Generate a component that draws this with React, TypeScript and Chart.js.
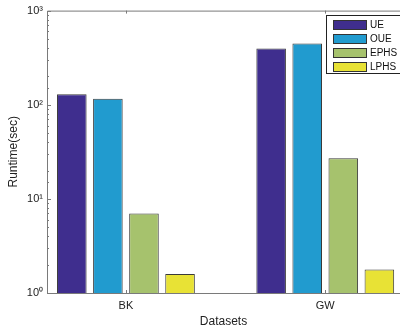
import React, { useEffect, useRef } from "react";
import { Chart, registerables } from "chart.js";

Chart.register(...registerables);

const categories = ["BK", "GW"];
const seriesNames = ["UE", "OUE", "EPHS", "LPHS"];
const ueValues = [129, 396];
const oueValues = [116, 448];
const ephsValues = [7.0, 27];
const lphsValues = [1.59, 1.78];
const seriesColors = ["#3f2e8e", "#219bcf", "#a6c26d", "#e8e235"];
const yTickValues = [1, 10, 100, 1000];
const yTickLabels = ["10⁰", "10¹", "10²", "10³"];

const FONT = "'Liberation Sans', Arial, sans-serif";

const framePlugin = {
  id: "frame",
  afterDatasetsDraw(chart: any) {
    const { ctx, chartArea } = chart;
    const { left, right, top, bottom } = chartArea;
    const xs = chart.scales.x;
    const ys = chart.scales.y;
    ctx.save();
    ctx.strokeStyle = "#7a7a7a";
    ctx.lineWidth = 1;
    ctx.beginPath();
    ctx.moveTo(left + 0.5, top + 0.5);
    ctx.lineTo(right + 0.5, top + 0.5);
    ctx.lineTo(right + 0.5, bottom + 0.5);
    ctx.lineTo(left + 0.5, bottom + 0.5);
    ctx.closePath();
    ctx.stroke();
    ys.ticks.forEach((t: any) => {
      const y = Math.round(ys.getPixelForValue(t.value)) + 0.5;
      const isMajor = yTickValues.includes(t.value);
      const len = isMajor ? 4 : 2;
      ctx.beginPath();
      ctx.moveTo(left, y);
      ctx.lineTo(left + len, y);
      ctx.stroke();
    });
    categories.forEach((_, i) => {
      const x = Math.round(xs.getPixelForValue(i + 1)) + 0.5;
      ctx.beginPath();
      ctx.moveTo(x, bottom);
      ctx.lineTo(x, bottom - 3);
      ctx.moveTo(x, top);
      ctx.lineTo(x, top + 3);
      ctx.stroke();
    });
    ctx.restore();
  },
  afterDraw(chart: any) {
    const { ctx } = chart;
    const bx = 326.5, by = 15.5, bw = 80, bh = 58;
    ctx.save();
    ctx.fillStyle = "#ffffff";
    ctx.fillRect(bx, by, bw, bh);
    ctx.strokeStyle = "#222222";
    ctx.lineWidth = 1;
    ctx.strokeRect(bx, by, bw, bh);
    ctx.font = `10px ${FONT}`;
    ctx.textBaseline = "middle";
    ctx.textAlign = "left";
    chart.data.datasets.forEach((ds: any, i: number) => {
      const cy = 25 + i * 14;
      ctx.fillStyle = ds.backgroundColor;
      ctx.fillRect(333.5, cy - 4.5, 33, 9);
      ctx.strokeStyle = "#333333";
      ctx.strokeRect(333.5, cy - 4.5, 33, 9);
      ctx.fillStyle = "#111111";
      ctx.fillText(ds.label, 370, cy + 0.5);
    });
    ctx.restore();
  },
};

export default function App() {
  const canvasRef = useRef<HTMLCanvasElement>(null);

  useEffect(() => {
    document.body.style.margin = "0";
    const allValues = [ueValues, oueValues, ephsValues, lphsValues];
    const chart = new Chart(canvasRef.current as HTMLCanvasElement, {
      type: "bar",
      data: {
        datasets: seriesNames.map((name, si) => ({
          label: name,
          data: categories.map((_, ci) => ({ x: ci + 1, y: allValues[si][ci] })),
          backgroundColor: seriesColors[si],
          borderColor: "#3a3a3a",
          borderWidth: 1,
          categoryPercentage: 0.724,
          barPercentage: 0.82,
        })),
      },
      options: {
        animation: false,
        responsive: false,
        layout: { padding: { top: 10, right: 0, left: 0, bottom: 0 } },
        plugins: {
          legend: { display: false },
          tooltip: { enabled: false },
        },
        scales: {
          x: {
            type: "linear",
            offset: false,
            min: 0.604,
            max: 2.375,
            grid: { display: false, drawTicks: false, offset: false },
            border: { display: false },
            afterBuildTicks: (scale: any) => {
              scale.ticks = categories.map((_, i) => ({ value: i + 1 }));
            },
            afterFit: (scale: any) => {
              scale.height = 39;
            },
            ticks: {
              padding: 6,
              color: "#222222",
              font: { family: FONT, size: 11 },
              callback: (v: any) => categories[Number(v) - 1] ?? "",
            },
            title: {
              display: true,
              text: "Datasets",
              color: "#222222",
              font: { family: FONT, size: 12 },
              padding: { top: 0, bottom: 3 },
            },
          },
          y: {
            type: "logarithmic",
            min: 1,
            max: 1000,
            grid: { display: false, drawTicks: false },
            border: { display: false },
            afterFit: (scale: any) => {
              scale.width = 47;
            },
            ticks: {
              padding: 4,
              color: "#222222",
              font: { family: FONT, size: 11 },
              autoSkip: false,
              callback: (v: any) => {
                const idx = yTickValues.indexOf(Number(v));
                return idx >= 0 ? yTickLabels[idx] : "";
              },
            },
            title: {
              display: true,
              text: "Runtime(sec)",
              color: "#222222",
              font: { family: FONT, size: 12 },
              padding: { top: 6, bottom: 0 },
            },
          },
        },
      },
      plugins: [framePlugin],
    } as any);
    return () => chart.destroy();
  }, []);

  return (
    <div style={{ width: 400, height: 332 }}>
      <canvas ref={canvasRef} width={400} height={332} />
    </div>
  );
}
